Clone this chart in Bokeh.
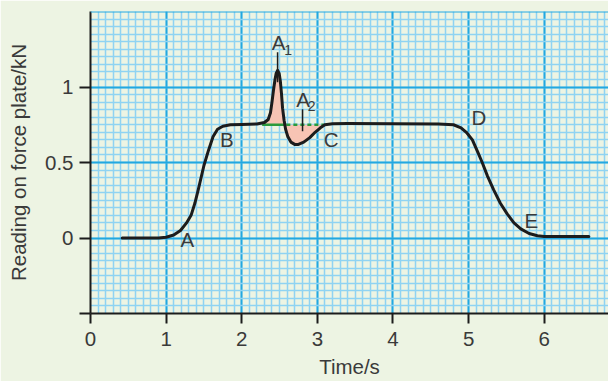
import numpy as np
from bokeh.plotting import figure
from bokeh.models import FixedTicker, Span
from bokeh.core.properties import value
from bokeh.embed import file_html
from bokeh.resources import INLINE

# ---- data ----
time_s = [0.42, 0.90, 1.00, 1.10, 1.19, 1.27, 1.33, 1.38, 1.43, 1.50, 1.56, 1.62, 1.68,
          1.75, 1.85, 2.00, 2.20, 2.30, 2.35, 2.38, 2.40, 2.42, 2.44, 2.455, 2.475, 2.495,
          2.51, 2.525, 2.54, 2.56, 2.58, 2.61, 2.65, 2.70, 2.75, 2.82, 2.90, 2.97, 3.04,
          3.10, 3.20, 3.40, 4.00, 4.60, 4.80, 4.90, 4.97, 5.05, 5.12, 5.18, 5.25, 5.33,
          5.42, 5.51, 5.60, 5.69, 5.80, 5.91, 6.00, 6.59]
force_kn = [0.00, 0.00, 0.005, 0.02, 0.05, 0.10, 0.15, 0.23, 0.33, 0.48, 0.58, 0.67, 0.72,
            0.74, 0.75, 0.752, 0.755, 0.765, 0.785, 0.83, 0.90, 0.98, 1.05, 1.09, 1.11, 1.09,
            1.04, 0.96, 0.86, 0.78, 0.72, 0.67, 0.635, 0.62, 0.62, 0.635, 0.665, 0.70, 0.73,
            0.75, 0.757, 0.758, 0.757, 0.755, 0.75, 0.73, 0.70, 0.65, 0.57, 0.50, 0.41, 0.32,
            0.23, 0.16, 0.10, 0.06, 0.03, 0.015, 0.01, 0.01]
plateau_kn = 0.75
impulse_start, impulse_cross, impulse_end = 2.27, 2.59, 3.11

x_ticks = [0, 1, 2, 3, 4, 5, 6]
y_ticks = [-0.5, 0, 0.5, 1]
y_labels = {-0.5: "", 0: "0", 0.5: "0.5", 1: "1"}

point_names = ["A", "B", "C", "D", "E"]
point_x = [1.279, 1.803, 3.184, 5.136, 5.83]
point_y = [-0.01, 0.652, 0.650, 0.796, 0.117]

# ---- styles ----
BG = "#edf4e3"
MINOR = "#8fd3f2"
MAJOR = "#22a8e0"
INK = "#1c1c1c"
TXT = "#3a3a3a"
FONT = "Liberation Sans"
FS = "20.5px"

p = figure(width=608, height=381, x_range=(0, 6.85), y_range=(-0.5, 1.5),
           output_backend="svg", toolbar_location=None,
           min_border_left=90, min_border_right=0, min_border_top=11, min_border_bottom=68)
p.background_fill_color = BG
p.border_fill_color = BG
p.outline_line_color = None

p.xaxis.ticker = FixedTicker(ticks=x_ticks, minor_ticks=list(np.round(np.arange(0, 6.9, 0.1), 2)))
p.yaxis.ticker = FixedTicker(ticks=y_ticks, minor_ticks=list(np.round(np.arange(-0.5, 1.51, 0.05), 3)))
p.yaxis.major_label_overrides = y_labels

for ax in (p.xaxis, p.yaxis):
    ax.axis_line_color = INK
    ax.axis_line_width = 2
    ax.major_tick_line_color = INK
    ax.major_tick_line_width = 2
    ax.major_tick_in = 0
    ax.minor_tick_line_color = None
    ax.major_label_text_font = FONT
    ax.major_label_text_font_size = FS
    ax.major_label_text_color = TXT
    ax.axis_label_text_font = FONT
    ax.axis_label_text_font_size = FS
    ax.axis_label_text_font_style = "normal"
    ax.axis_label_text_color = TXT

p.xaxis.major_tick_out = 10
p.yaxis.major_tick_out = 11
p.xaxis.major_label_standoff = 8
p.yaxis.major_label_standoff = 6
p.xaxis.axis_label = "Time/s"
p.yaxis.axis_label = "Reading on force plate/kN"
p.xaxis.axis_label_standoff = 6
p.yaxis.axis_label_standoff = 12

for g in (p.xgrid, p.ygrid):
    g.grid_line_color = MAJOR
    g.grid_line_width = 2
    g.minor_grid_line_color = MINOR
    g.minor_grid_line_width = 1.5
    g.level = "underlay"

p.add_layout(Span(location=1.5, dimension="width", line_color=MAJOR, line_width=2))

# impulse fill
t = np.array(time_s)
f = np.array(force_kn)
m = (t >= impulse_start) & (t <= impulse_end)
tx = np.concatenate([[impulse_start], t[m], [impulse_end]])
fy = np.concatenate([[plateau_kn], f[m], [plateau_kn]])
p.varea(x=tx, y1=np.full(len(tx), plateau_kn), y2=fy, fill_color="#f7c4b4")

# green baseline
p.line([impulse_start, impulse_cross], [plateau_kn, plateau_kn], line_color="#2a9a3c", line_width=2.5)
p.line([impulse_cross, impulse_end], [plateau_kn, plateau_kn], line_color="#2a9a3c",
       line_width=2.5, line_dash="4 3")

# force curve
p.line(time_s, force_kn, line_color=INK, line_width=3, line_join="round", line_cap="round")

# pointer lines
p.segment(x0=[2.474, 2.804], y0=[1.23, 0.852], x1=[2.474, 2.804], y1=[1.031, 0.707],
          line_color=INK, line_width=1.5)

# point labels
p.text(x=point_x, y=point_y, text=point_names, text_font=value(FONT), text_font_size=FS,
       text_align="center", text_baseline="middle", text_color=TXT)
p.text(x=[2.487, 2.811], y=[1.294, 0.915], text=["A", "A"], text_font=value(FONT),
       text_font_size=FS, text_align="center", text_baseline="middle", text_color=TXT)
p.text(x=[2.612, 2.925], y=[1.245, 0.872], text=["1", "2"], text_font=value(FONT),
       text_font_size="14px", text_align="center", text_baseline="middle", text_color=TXT)

open("out.html", "w").write(file_html(p, INLINE))
